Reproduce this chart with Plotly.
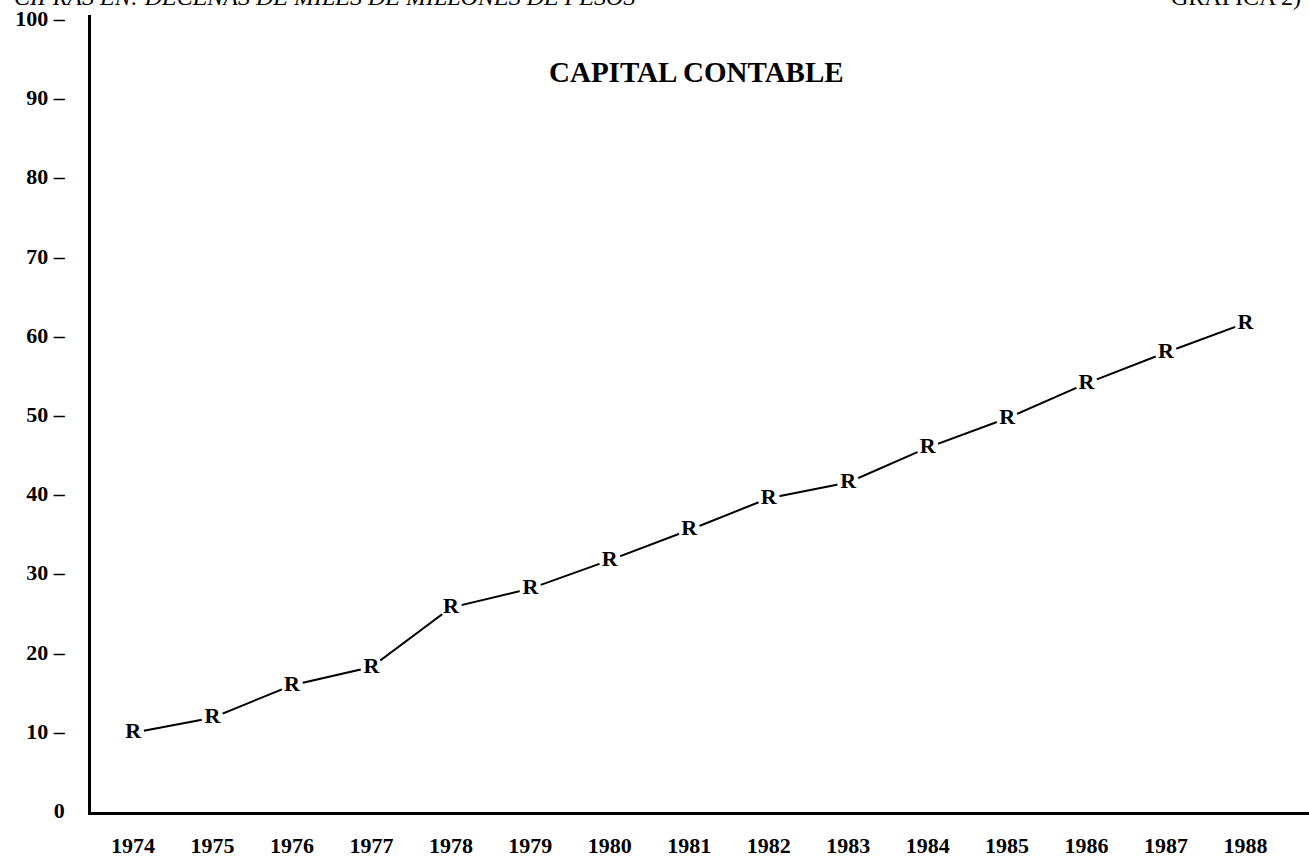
import plotly.graph_objects as go

years = [1974, 1975, 1976, 1977, 1978, 1979, 1980, 1981, 1982, 1983, 1984, 1985, 1986, 1987, 1988]
capital = [9.8, 11.7, 15.8, 18.1, 25.6, 28.0, 31.6, 35.4, 39.4, 41.4, 45.8, 49.5, 53.9, 57.8, 61.5]
ytick_vals = [0, 10, 20, 30, 40, 50, 60, 70, 80, 90, 100]
ytick_text = ["0", "10 –", "20 –", "30 –", "40 –", "50 –", "60 –", "70 –", "80 –", "90 –", "100 –"]
xtick_text = [str(y) for y in years]

SERIF = "Liberation Serif, Times New Roman, serif"

fig = go.Figure()
fig.add_trace(go.Scatter(x=years, y=capital, mode="lines",
                         line=dict(color="black", width=2), hoverinfo="skip"))
fig.add_trace(go.Scatter(x=years, y=capital, mode="markers+text",
                         marker=dict(color="white", size=22, symbol="circle"),
                         text=["<b>R</b>"] * len(years), textposition="middle center",
                         textfont=dict(family=SERIF, size=22, color="black")))

fig.update_layout(
    width=1309, height=861,
    paper_bgcolor="white", plot_bgcolor="white",
    showlegend=False,
    margin=dict(l=91, r=0, t=15, b=49, autoexpand=False),
    xaxis=dict(range=[1973.47, 1988.8], showgrid=False, zeroline=False,
               showline=True, linecolor="black", linewidth=2.5,
               tickmode="array", tickvals=years, ticktext=xtick_text,
               ticks="", ticklabelstandoff=12, automargin=False,
               tickfont=dict(family=SERIF, size=22, color="black", weight="bold")),
    yaxis=dict(range=[-0.2, 100.4], showgrid=False, zeroline=False,
               showline=True, linecolor="black", linewidth=2.5,
               tickmode="array", tickvals=ytick_vals, ticktext=ytick_text,
               ticks="", ticklabelstandoff=19, automargin=False,
               tickfont=dict(family=SERIF, size=22, color="black", weight="bold")),
    annotations=[
        dict(text="<b>CAPITAL CONTABLE</b>", xref="paper", yref="paper",
             x=0.497, y=0.928, xanchor="center", yanchor="middle", showarrow=False,
             font=dict(family=SERIF, size=29, color="black")),
        dict(text="<i>CIFRAS EN: DECENAS DE MILES DE MILLONES DE PESOS</i>", xref="paper", yref="paper",
             x=-0.065, y=1.022, xanchor="left", yanchor="middle", showarrow=False,
             font=dict(family=SERIF, size=24, color="black")),
        dict(text="GRAFICA 2)", xref="paper", yref="paper",
             x=0.995, y=1.022, xanchor="right", yanchor="middle", showarrow=False,
             font=dict(family=SERIF, size=24, color="black")),
    ],
)

fig.write_html("out.html", config={"displayModeBar": False},
               post_script="document.body.style.margin='0px';document.body.style.overflow='hidden';")
